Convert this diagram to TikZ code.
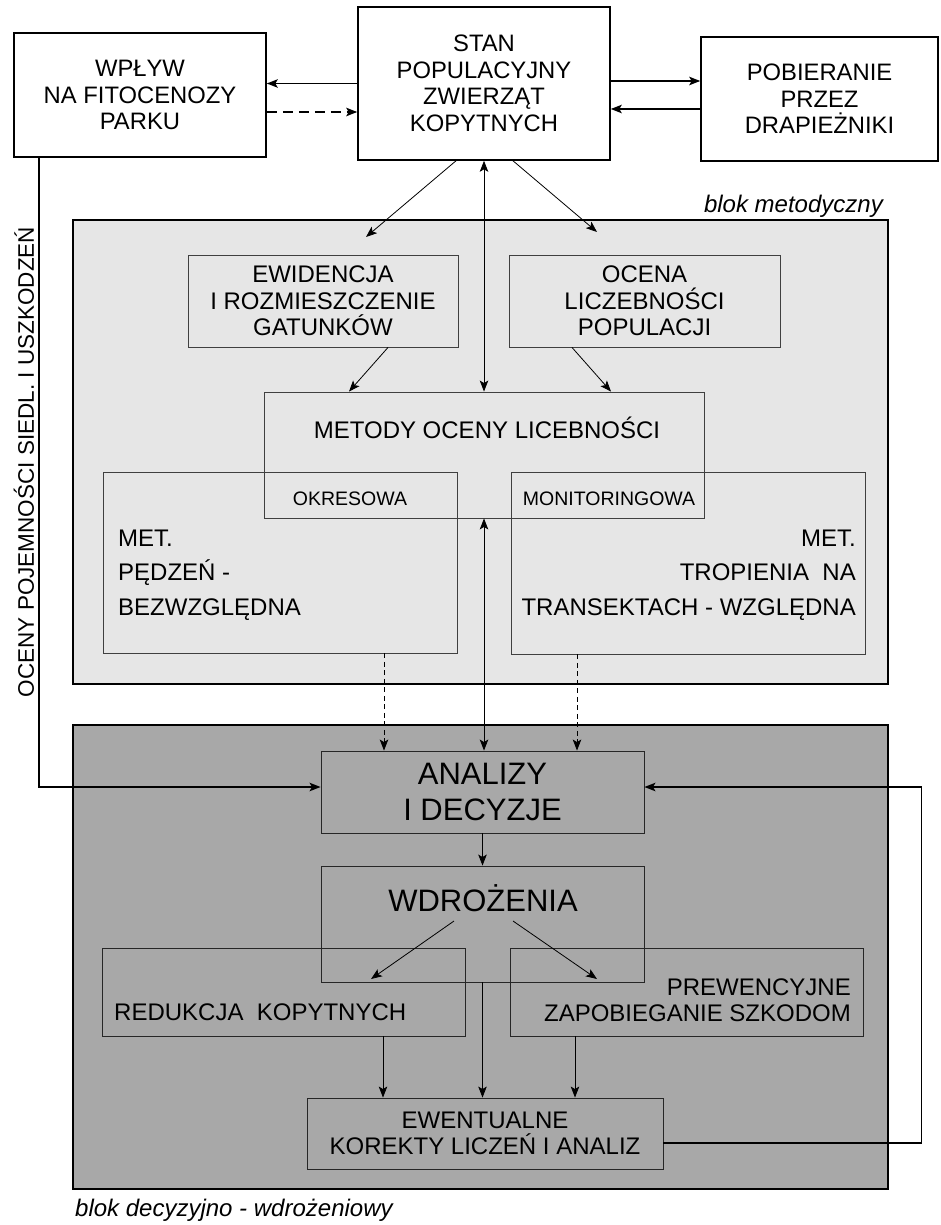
\documentclass[tikz,border=0pt]{standalone}
\usepackage{fontspec}
\setmainfont{Liberation Sans}
\usetikzlibrary{arrows.meta,calc}
\definecolor{mgray}{HTML}{E6E6E6}
\definecolor{dgray}{HTML}{A8A8A8}
\definecolor{lgline}{HTML}{404040}
\begin{document}
\begin{tikzpicture}[x=1pt,y=-1pt,
  >={Stealth[length=11pt,width=8.5pt,inset=2.5pt]},
  blk/.style={draw=black, line width=1.6pt, inner sep=0pt},
  topbox/.style={draw=black, line width=1.6pt, align=center, inner sep=0pt, font={\fontsize{23.8}{26.5}\selectfont}},
  inbox/.style={draw=lgline, line width=0.9pt, inner sep=0pt, align=center, font={\fontsize{24}{26.5}\selectfont}},
  txt/.style={inner sep=0pt, font={\fontsize{24}{26.5}\selectfont}},
  smalltxt/.style={inner sep=0pt, font={\fontsize{19.5}{22}\selectfont}},
  bigtxt/.style={inner sep=0pt, font={\fontsize{31}{36}\selectfont}},
  lab/.style={inner sep=0pt, font={\fontsize{24}{26}\selectfont\itshape}},
  bg/.style={line width=1.5pt, draw=black},
  thn/.style={line width=0.8pt, draw=black},
  bdash/.style={dash pattern=on 10pt off 6pt},
  sdash/.style={dash pattern=on 5pt off 3.5pt}
]
\fill[white] (0,0) rectangle (940,1225);
\useasboundingbox (0,0) rectangle (940,1225);

% blocks
\node[blk, fill=mgray, minimum width=815pt, minimum height=464pt] (mb) at (480.5,452) {};
\node[blk, fill=dgray, minimum width=815pt, minimum height=464pt] (db) at (480.5,957) {};
\node[lab, anchor=base east] (lm) at (883,212) {blok metodyczny};
\node[lab, anchor=base west] (ld) at (75,1216) {blok decyzyjno - wdrożeniowy};

% vertical label
\node[inner sep=0pt, font={\fontsize{22.5}{26}\selectfont}, rotate=90] (vt) at (24,462) {OCENY POJEMNOŚCI SIEDL. I USZKODZEŃ};

% top boxes
\node[topbox, minimum width=252pt, minimum height=124pt] (wp) at (140,95) {WPŁYW\\NA FITOCENOZY\\PARKU};
\node[topbox, minimum width=252pt, minimum height=153pt] (stan) at (484,83.5) {STAN\\POPULACYJNY\\ZWIERZĄT\\KOPYTNYCH};
\node[topbox, minimum width=237pt, minimum height=124pt] (pob) at (819.5,99) {POBIERANIE\\PRZEZ\\DRAPIEŻNIKI};

% methodological block
\node[inbox, minimum width=270pt, minimum height=92pt] (ew) at (323,301) {EWIDENCJA\\I ROZMIESZCZENIE\\GATUNKÓW};
\node[inbox, minimum width=271pt, minimum height=92pt] (oc) at (644.5,301) {OCENA\\LICZEBNOŚCI\\POPULACJI};
\node[inbox, minimum width=440pt, minimum height=126pt] (met) at (484,455) {};
\node[txt, anchor=base] (mett) at (487,438.4) {METODY OCENY LICEBNOŚCI};
\node[inbox, minimum width=354pt, minimum height=181pt] (lb) at (280,562.5) {};
\node[inbox, minimum width=354pt, minimum height=182pt] (rb) at (688,563) {};
\node[smalltxt, anchor=base] (okr) at (350,505) {OKRESOWA};
\node[smalltxt, anchor=base] (mon) at (609,505) {MONITORINGOWA};
\node[txt, align=left, anchor=west, font={\fontsize{24}{34.5}\selectfont}] (lt) at (118,575) {MET.\\PĘDZEŃ -\\BEZWZGLĘDNA};
\node[txt, align=right, anchor=east, font={\fontsize{24}{34.5}\selectfont}] (rt) at (856,575) {MET.\\TROPIENIA\ \ NA\\TRANSEKTACH - WZGLĘDNA};

% decision block
\node[inbox, draw=black!85, minimum width=323pt, minimum height=82pt, font={\fontsize{31}{36}\selectfont}] (an) at (482.5,792) {ANALIZY\\I DECYZJE};
\node[inbox, draw=black!85, minimum width=323pt, minimum height=116pt] (wd) at (482.5,924) {};
\node[bigtxt, anchor=base] (wdt) at (483,911) {WDROŻENIA};
\node[inbox, draw=black!85, minimum width=363pt, minimum height=88pt] (red) at (283.5,992) {};
\node[txt, anchor=base west] (redt) at (114,1020.4) {REDUKCJA\ \ KOPYTNYCH};
\node[inbox, draw=black!85, minimum width=353pt, minimum height=88pt] (prev) at (686.5,992) {};
\node[txt, align=right, anchor=east, font={\fontsize{24}{26}\selectfont}] (prevt) at (851,1000) {PREWENCYJNE\\ZAPOBIEGANIE SZKODOM};
\node[inbox, draw=black!85, minimum width=356pt, minimum height=71pt] (ewe) at (485,1133.5) {EWENTUALNE\\KOREKTY LICZEŃ I ANALIZ};

% top connectors
\draw[bg,->] (stan.west) -- (stan.west -| wp.east);
\coordinate (s2) at ($(stan.west)+(0,28.5)$);
\draw[bg,bdash,->] (s2 -| wp.east) -- (s2);
\coordinate (p1) at ($(pob.west)+(0,-18)$);
\draw[bg,->] (p1 -| stan.east) -- (p1);
\coordinate (p2) at ($(pob.west)+(0,10)$);
\draw[bg,->] (p2) -- (p2 -| stan.east);

% stan to methodological block
\coordinate (a1) at (366,237);
\coordinate (a2) at (597,232);
\draw[thn,->] ($(stan.south)+(-28,0)$) -- (a1);
\draw[thn,->] ($(stan.south)+(29,0)$) -- (a2);
\draw[thn,<->] (stan.south) -- (stan.south |- met.north);
\draw[thn,->] ($(ew.south)+(65,0)$) -- ($(met.north)+(-135,0)$);
\draw[thn,->] ($(oc.south)+(-72.5,0)$) -- ($(met.north)+(127,0)$);

% methods to analyses
\draw[thn,<->] (met.south) -- (met.south |- an.north);
\coordinate (d1) at ($(lb.south)+(104,0)$);
\draw[thn,sdash,->] (d1) -- (d1 |- an.north);
\coordinate (d2) at ($(rb.south)+(-111,0)$);
\draw[thn,sdash,->] (d2) -- (d2 |- an.north);

% side loops
\coordinate (l1) at ($(wp.south)+(-101,0)$);
\coordinate (l2) at ($(an.west)+(0,-5)$);
\draw[bg,->] (l1) |- (l2);
\coordinate (r1) at ($(ewe.east)+(0,9.5)$);
\coordinate (r2) at ($(an.east)+(0,-5)$);
\draw[bg,->] (r1) -- ++(258,0) |- (r2);

% decision block connectors
\draw[thn,->] (an.south) -- (wd.north);
\coordinate (w1) at ($(wd.center)+(-28.5,-3)$);
\coordinate (w2) at (371,979);
\coordinate (w3) at ($(wd.center)+(30.5,-3)$);
\coordinate (w4) at (597,979);
\draw[thn,->] (w1) -- (w2);
\draw[thn,->] (w3) -- (w4);
\draw[thn,->] (wd.south) -- (wd.south |- ewe.north);
\coordinate (e1) at ($(red.south)+(99.5,0)$);
\draw[thn,->] (e1) -- (e1 |- ewe.north);
\coordinate (e2) at ($(prev.south)+(-111.5,0)$);
\draw[thn,->] (e2) -- (e2 |- ewe.north);
\end{tikzpicture}
\end{document}
